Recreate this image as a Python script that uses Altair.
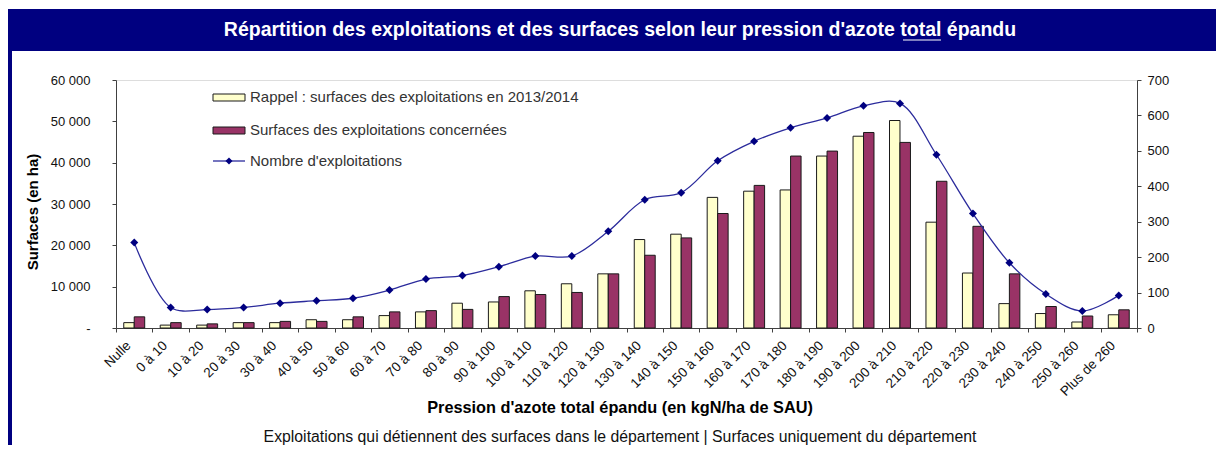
import altair as alt
import pandas as pd

categories = ["Nulle", "0 à 10", "10 à 20", "20 à 30", "30 à 40", "40 à 50", "50 à 60",
              "60 à 70", "70 à 80", "80 à 90", "90 à 100", "100 à 110", "110 à 120",
              "120 à 130", "130 à 140", "140 à 150", "150 à 160", "160 à 170", "170 à 180",
              "180 à 190", "190 à 200", "200 à 210", "210 à 220", "220 à 230", "230 à 240",
              "240 à 250", "250 à 260", "Plus de 260"]
rappel = [1300, 700, 700, 1300, 1300, 2000, 2000, 3000, 3900, 6000, 6300, 9000, 10700,
          13100, 21400, 22700, 31600, 33100, 33400, 41600, 46400, 50200, 25600, 13300,
          5900, 3500, 1450, 3200]
concernees = [2700, 1300, 1000, 1300, 1600, 1600, 2700, 3900, 4200, 4500, 7600, 8100, 8600,
              13100, 17600, 21800, 27700, 34500, 41600, 42800, 47300, 44900, 35500, 24600,
              13100, 5200, 2900, 4400]
nombre = [241, 58, 52, 58, 70, 77, 84, 107, 138, 148, 173, 203, 203, 273, 362, 382, 472,
          527, 565, 593, 627, 634, 489, 323, 184, 96, 48, 92]
left_ticks = [0, 10000, 20000, 30000, 40000, 50000, 60000]
right_ticks = [0, 100, 200, 300, 400, 500, 600, 700]

S_RAPPEL = "Rappel : surfaces des exploitations en 2013/2014"
S_CONC = "Surfaces des exploitations concernées"
S_LINE = "Nombre d'exploitations"
TITLE = "Répartition des exploitations et des surfaces selon leur pression d'azote total épandu"
X_TITLE = "Pression d'azote total épandu (en kgN/ha de SAU)"
Y_TITLE = "Surfaces (en ha)"
FOOTER = "Exploitations qui détiennent des surfaces dans le département | Surfaces uniquement du département"

n = len(categories)
bars_df = pd.DataFrame({
    "cat": categories * 2,
    "serie": [S_RAPPEL] * n + [S_CONC] * n,
    "val": rappel + concernees,
})
line_df = pd.DataFrame({"cat": categories, "n": nombre})
one = pd.DataFrame({"a": [0]})

W, H = 1021, 248
FONT = "Liberation Sans"
NAVY = "#000080"
AX = "#404040"
YELLOW = "#FFFFCC"
PURPLE = "#993366"
NBSP = "\u00a0"
LBL = "#111111"

x_axis = alt.Axis(title=None, labelAngle=-45, labelAlign="right", labelBaseline="middle",
                  labelPadding=11, labelOffset=-6, tickBand="extent", tickSize=4,
                  domainColor=AX, tickColor=AX, labelColor=LBL, labelFontSize=13.5,
                  labelFont=FONT, labelOverlap=False)
x_enc = alt.X("cat:N", sort=categories, scale=alt.Scale(paddingInner=0, paddingOuter=0),
              axis=x_axis)

left_axis = alt.Axis(title=None, orient="left", values=left_ticks, tickSize=4,
                     labelPadding=22, domain=True, ticks=True, domainColor=AX,
                     tickColor=AX, labelColor=LBL, labelFontSize=13, labelFont=FONT,
                     grid=False, labelOverlap=False,
                     labelExpr="datum.value == 0 ? '-" + NBSP * 4 + "' : replace(format(datum.value, ','), ',', ' ')")

bars = alt.Chart(bars_df).mark_bar(stroke="#1a1a1a", strokeWidth=1).encode(
    x=x_enc,
    xOffset=alt.XOffset("serie:N", sort=[S_RAPPEL, S_CONC],
                        scale=alt.Scale(paddingOuter=0.74, paddingInner=0)),
    y=alt.Y("val:Q", scale=alt.Scale(domain=[0, 60000], nice=False), axis=left_axis),
    color=alt.Color("serie:N", scale=alt.Scale(domain=[S_RAPPEL, S_CONC], range=[YELLOW, PURPLE]),
                    legend=None),
)

right_axis = alt.Axis(title=None, orient="right", values=right_ticks, tickSize=4,
                      labelPadding=6, domain=True, ticks=True, domainColor=AX,
                      tickColor=AX, labelColor=LBL, labelFontSize=13, labelFont=FONT,
                      grid=False, labelOverlap=False)
right_scale = alt.Scale(domain=[0, 700], nice=False)
line = alt.Chart(line_df).mark_line(color="#2b2b9c", strokeWidth=1.3,
                                    interpolate="catmull-rom").encode(
    x=alt.X("cat:N", sort=categories),
    y=alt.Y("n:Q", scale=right_scale, axis=right_axis))
pts = alt.Chart(line_df).mark_point(shape="diamond", filled=True, size=64, color=NAVY,
                                    opacity=1).encode(
    x=alt.X("cat:N", sort=categories),
    y=alt.Y("n:Q", scale=right_scale, axis=right_axis))
line_layer = alt.layer(line, pts)


def rect(x, x2, y, y2, fill, stroke=None):
    kw = {"fill": fill}
    if stroke:
        kw.update(stroke=stroke, strokeWidth=1)
    return alt.Chart(one).mark_rect(**kw).encode(
        x=alt.value(x), x2=alt.value(x2), y=alt.value(y), y2=alt.value(y2))


def text(x, y, s, size, weight="normal", color="#000000", align="center", angle=0):
    kw = dict(font=FONT, fontSize=size, fontWeight=weight, color=color, align=align,
              baseline="middle")
    if angle:
        kw["angle"] = angle
    return alt.Chart(one).mark_text(**kw).encode(
        x=alt.value(x), y=alt.value(y), text=alt.value(s))


title_bar = rect(-108, 1100, -71, -29, NAVY)
left_border = rect(-108, -104, -29, 370, NAVY)
title_txt = text(504, -50, TITLE, 19.5, "bold", "#ffffff")
underline = alt.Chart(one).mark_rule(color="#ffffff", strokeWidth=1).encode(
    x=alt.value(787), x2=alt.value(825), y=alt.value(-40))
y_title = text(-83, 132, Y_TITLE, 15, "bold", angle=270)
x_title = text(504, 328, X_TITLE, 16.3, "bold")
footer = text(504, 357, FOOTER, 15.8, "normal", LBL)

leg1 = rect(97, 129, 14, 21, YELLOW, "#1a1a1a")
leg2 = rect(97, 129, 47, 54, PURPLE, "#1a1a1a")
leg3 = alt.Chart(one).mark_rule(color="#2b2b9c", strokeWidth=1.3).encode(
    x=alt.value(97), x2=alt.value(129), y=alt.value(81))
leg3p = alt.Chart(one).mark_point(shape="diamond", filled=True, size=50, color=NAVY,
                                  opacity=1).encode(x=alt.value(113), y=alt.value(81))
lt1 = text(134, 17, S_RAPPEL, 15, color="#333333", align="left")
lt2 = text(134, 50, S_CONC, 15, color="#333333", align="left")
lt3 = text(134, 81, S_LINE, 15, color="#333333", align="left")

chart = alt.layer(
    title_bar, left_border, title_txt, underline, y_title, x_title, footer,
    leg1, leg2, leg3, leg3p, lt1, lt2, lt3,
    bars, line_layer,
).resolve_scale(y="independent").properties(
    width=W, height=H,
    autosize=alt.AutoSizeParams(type="none"),
    padding={"left": 108, "top": 72, "right": 79, "bottom": 117},
).configure_view(stroke=None).configure(background="#ffffff")

chart.save("out.html", embed_options={"renderer": "svg", "actions": False})
